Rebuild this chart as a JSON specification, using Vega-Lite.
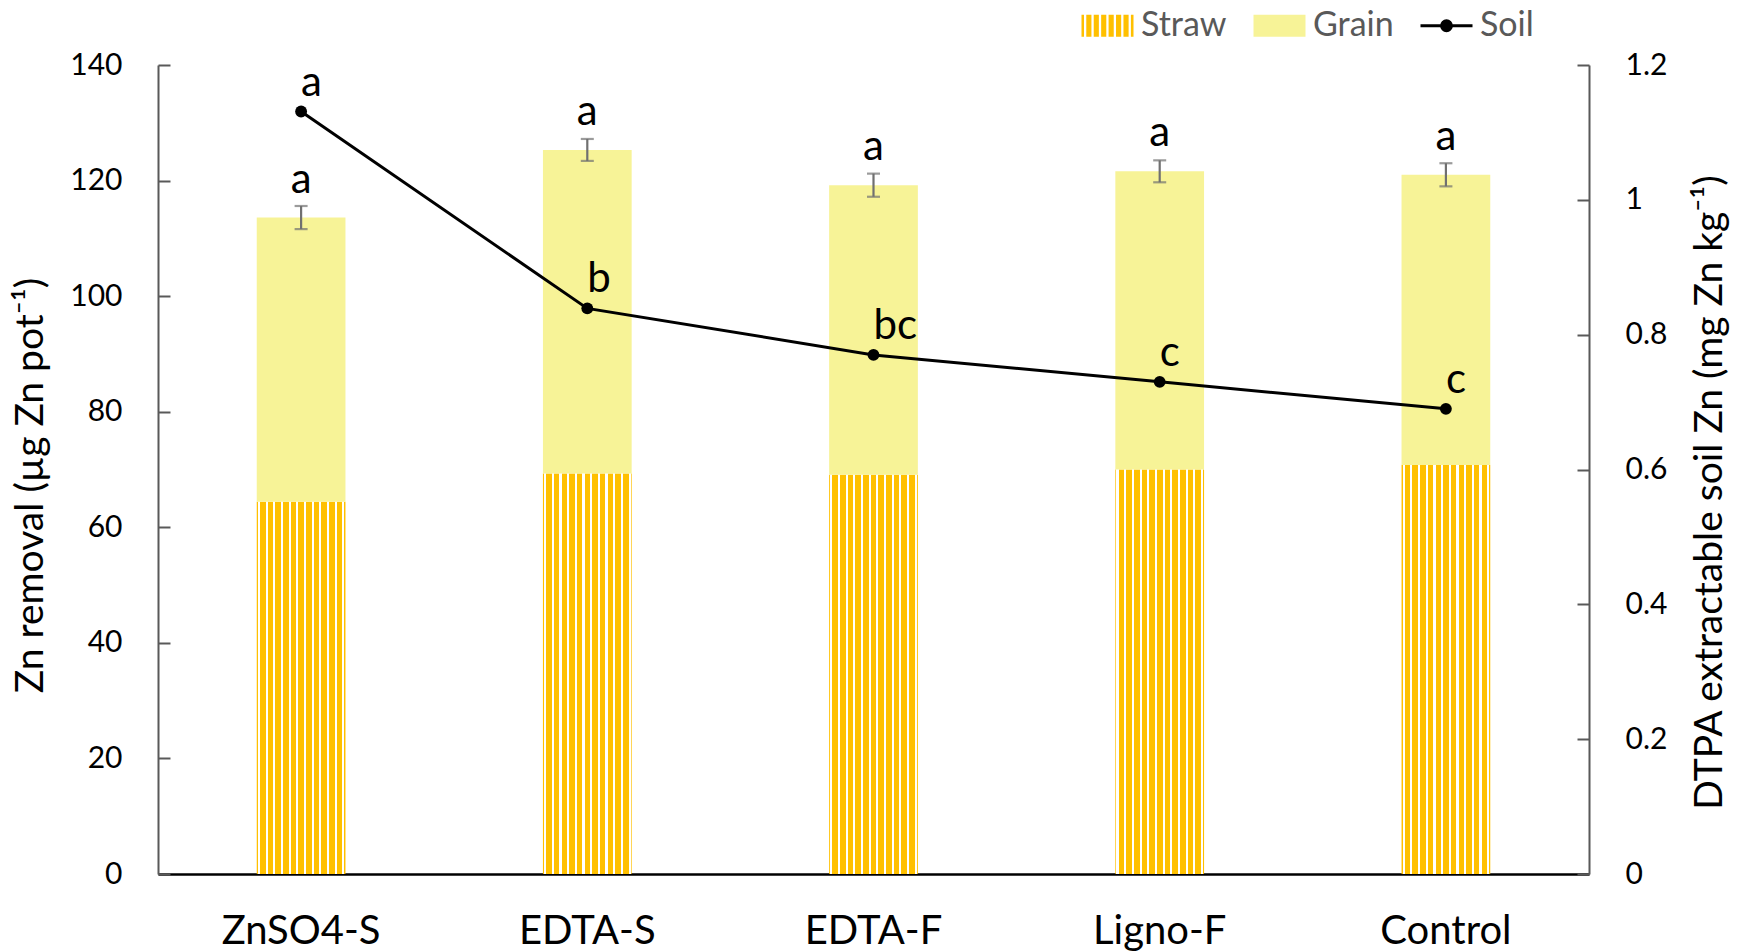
{
  "$schema": "https://vega.github.io/schema/vega-lite/v6.json",
  "width": 1431,
  "height": 809,
  "autosize": {"type": "none"},
  "padding": {"left": 158, "top": 65, "right": 155, "bottom": 78},
  "background": "#ffffff",
  "config": {
    "font": "Lato",
    "view": {"stroke": null},
    "axis": {"grid": false, "labelFont": "Lato", "titleFont": "Lato", "labelColor": "#000000", "titleColor": "#000000", "titleFontWeight": "normal"},
    "axisLeft": {"domainColor": "#595959", "domainWidth": 2, "tickColor": "#595959", "tickWidth": 2, "tickSize": -12, "labelPadding": 48, "labelFontSize": 30, "titleFontSize": 39, "titlePadding": 19},
    "axisRight": {"domainColor": "#595959", "domainWidth": 2, "tickColor": "#595959", "tickWidth": 2, "tickSize": -12, "labelPadding": 48, "labelFontSize": 30, "titleFontSize": 39, "titlePadding": 24},
    "axisBottom": {"domainColor": "#000000", "domainWidth": 2.5, "ticks": false, "labelPadding": 37, "labelFontSize": 40, "labelAngle": 0},
    "legend": {"labelFont": "Lato", "labelFontSize": 34, "labelColor": "#595959", "symbolSize": 2704, "labelOffset": 6, "columnPadding": 20, "padding": 0}
  },
  "data": {
    "values": [
      {"Treatment": "ZnSO4-S", "Straw": 64.4, "Grain": 49.2, "Total": 113.6, "SE": 2.0, "BarLetter": "a", "Soil": 1.131, "SoilLetter": "a"},
      {"Treatment": "EDTA-S", "Straw": 69.3, "Grain": 56.0, "Total": 125.3, "SE": 1.9, "BarLetter": "a", "Soil": 0.839, "SoilLetter": "b"},
      {"Treatment": "EDTA-F", "Straw": 69.1, "Grain": 50.1, "Total": 119.2, "SE": 2.0, "BarLetter": "a", "Soil": 0.770, "SoilLetter": "bc"},
      {"Treatment": "Ligno-F", "Straw": 70.0, "Grain": 51.6, "Total": 121.6, "SE": 1.9, "BarLetter": "a", "Soil": 0.730, "SoilLetter": "c"},
      {"Treatment": "Control", "Straw": 70.8, "Grain": 50.2, "Total": 121.0, "SE": 2.0, "BarLetter": "a", "Soil": 0.690, "SoilLetter": "c"}
    ]
  },
  "encoding": {
    "x": {
      "field": "Treatment",
      "type": "nominal",
      "sort": ["ZnSO4-S", "EDTA-S", "EDTA-F", "Ligno-F", "Control"],
      "scale": {"paddingInner": 0.69, "paddingOuter": 0.345},
      "axis": {"title": null}
    }
  },
  "layer": [
    {
      "layer": [
        {
          "transform": [{"fold": ["Straw", "Grain"], "as": ["Part", "Zn"]}],
          "mark": {"type": "bar"},
          "encoding": {
            "y": {
              "field": "Zn",
              "type": "quantitative",
              "stack": "zero",
              "scale": {"domain": [0, 140], "nice": false},
              "axis": {"title": "Zn removal (µg Zn pot⁻¹)", "values": [0, 20, 40, 60, 80, 100, 120, 140], "titleY": 420}
            },
            "order": {"field": "Part", "sort": "descending"},
            "color": {
              "condition": {
                "test": "datum.Part === 'Straw'",
                "value": {
                  "gradient": "linear", "x1": 0, "x2": 1, "y1": 0, "y2": 0,
                  "stops": [
                    {"offset": 0, "color": "#FFC000"}, {"offset": 0.013, "color": "#FFC000"}, {"offset": 0.013, "color": "#FFFFFF"}, {"offset": 0.037, "color": "#FFFFFF"}, {"offset": 0.037, "color": "#FFC000"},
                    {"offset": 0.0995, "color": "#FFC000"}, {"offset": 0.0995, "color": "#FFFFFF"}, {"offset": 0.1235, "color": "#FFFFFF"}, {"offset": 0.1235, "color": "#FFC000"},
                    {"offset": 0.186, "color": "#FFC000"}, {"offset": 0.186, "color": "#FFFFFF"}, {"offset": 0.21, "color": "#FFFFFF"}, {"offset": 0.21, "color": "#FFC000"},
                    {"offset": 0.2725, "color": "#FFC000"}, {"offset": 0.2725, "color": "#FFFFFF"}, {"offset": 0.2965, "color": "#FFFFFF"}, {"offset": 0.2965, "color": "#FFC000"},
                    {"offset": 0.359, "color": "#FFC000"}, {"offset": 0.359, "color": "#FFFFFF"}, {"offset": 0.383, "color": "#FFFFFF"}, {"offset": 0.383, "color": "#FFC000"},
                    {"offset": 0.4455, "color": "#FFC000"}, {"offset": 0.4455, "color": "#FFFFFF"}, {"offset": 0.4695, "color": "#FFFFFF"}, {"offset": 0.4695, "color": "#FFC000"},
                    {"offset": 0.532, "color": "#FFC000"}, {"offset": 0.532, "color": "#FFFFFF"}, {"offset": 0.556, "color": "#FFFFFF"}, {"offset": 0.556, "color": "#FFC000"},
                    {"offset": 0.6185, "color": "#FFC000"}, {"offset": 0.6185, "color": "#FFFFFF"}, {"offset": 0.6425, "color": "#FFFFFF"}, {"offset": 0.6425, "color": "#FFC000"},
                    {"offset": 0.705, "color": "#FFC000"}, {"offset": 0.705, "color": "#FFFFFF"}, {"offset": 0.729, "color": "#FFFFFF"}, {"offset": 0.729, "color": "#FFC000"},
                    {"offset": 0.7915, "color": "#FFC000"}, {"offset": 0.7915, "color": "#FFFFFF"}, {"offset": 0.8155, "color": "#FFFFFF"}, {"offset": 0.8155, "color": "#FFC000"},
                    {"offset": 0.878, "color": "#FFC000"}, {"offset": 0.878, "color": "#FFFFFF"}, {"offset": 0.902, "color": "#FFFFFF"}, {"offset": 0.902, "color": "#FFC000"},
                    {"offset": 0.9645, "color": "#FFC000"}, {"offset": 0.9645, "color": "#FFFFFF"}, {"offset": 0.9885, "color": "#FFFFFF"}, {"offset": 0.9885, "color": "#FFC000"},
                    {"offset": 1, "color": "#FFC000"}
                  ]
                }
              },
              "field": "Part",
              "type": "nominal",
              "scale": {"domain": ["Straw", "Grain", "Soil"], "range": ["#FFC000", "#F7F397", "#000000"]},
              "legend": {
                "title": null,
                "orient": "none",
                "direction": "horizontal",
                "legendX": 922,
                "legendY": -67,
                "encode": {
                  "symbols": {
                    "update": {
                      "shape": [
                        {"test": "datum.value === 'Soil'", "value": "M-1,0H1M0.19,0A0.19,0.19,0,1,1,-0.19,0A0.19,0.19,0,1,1,0.19,0Z"},
                        {"test": "datum.value === 'Straw'", "value": "M-1,-0.42H-0.904V0.42H-1Z M-0.816,-0.42H-0.618V0.42H-0.816Z M-0.53,-0.42H-0.332V0.42H-0.53Z M-0.244,-0.42H-0.046V0.42H-0.244Z M0.042,-0.42H0.24V0.42H0.042Z M0.328,-0.42H0.526V0.42H0.328Z M0.614,-0.42H0.812V0.42H0.614Z M0.9,-0.42H1V0.42H0.9Z"},
                        {"value": "M-1,-0.42H1V0.42H-1Z"}
                      ],
                      "fill": [
                        {"test": "datum.value === 'Straw'", "value": "#FFC000"},
                        {"test": "datum.value === 'Grain'", "value": "#F7F397"},
                        {"value": "#000000"}
                      ],
                      "stroke": [
                        {"test": "datum.value === 'Soil'", "value": "#000000"},
                        {"value": "transparent"}
                      ],
                      "strokeWidth": {"value": 3},
                      "opacity": {"value": 1}
                    }
                  }
                }
              }
            }
          }
        },
        {
          "mark": {"type": "errorbar", "color": "#707070", "ticks": {"size": 13}, "thickness": 2.2},
          "encoding": {
            "y": {"field": "Total", "type": "quantitative", "axis": {"title": "Zn removal (µg Zn pot⁻¹)"}},
            "yError": {"field": "SE"}
          }
        },
        {
          "mark": {"type": "text", "fontSize": 42, "baseline": "alphabetic", "dy": -25, "color": "#000000"},
          "encoding": {
            "y": {"field": "Total", "type": "quantitative", "axis": {"title": "Zn removal (µg Zn pot⁻¹)"}},
            "text": {"field": "BarLetter"}
          }
        }
      ]
    },
    {
      "layer": [
        {
          "mark": {"type": "line", "color": "#000000", "strokeWidth": 3, "point": {"filled": true, "size": 140, "color": "#000000"}},
          "encoding": {
            "y": {
              "field": "Soil",
              "type": "quantitative",
              "scale": {"domain": [0, 1.2], "nice": false},
              "axis": {"orient": "right", "title": "DTPA extractable soil Zn (mg Zn kg⁻¹)", "values": [0, 0.2, 0.4, 0.6, 0.8, 1, 1.2], "format": ".1~f", "titleAngle": 270, "titleBaseline": "top", "titleY": 427}
            }
          }
        },
        {
          "mark": {"type": "text", "fontSize": 42, "align": "left", "baseline": "alphabetic", "dy": -16, "color": "#000000"},
          "encoding": {
            "y": {"field": "Soil", "type": "quantitative", "axis": {"orient": "right", "title": "DTPA extractable soil Zn (mg Zn kg⁻¹)"}},
            "text": {"field": "SoilLetter"}
          }
        }
      ]
    }
  ],
  "resolve": {"scale": {"y": "independent"}}
}
